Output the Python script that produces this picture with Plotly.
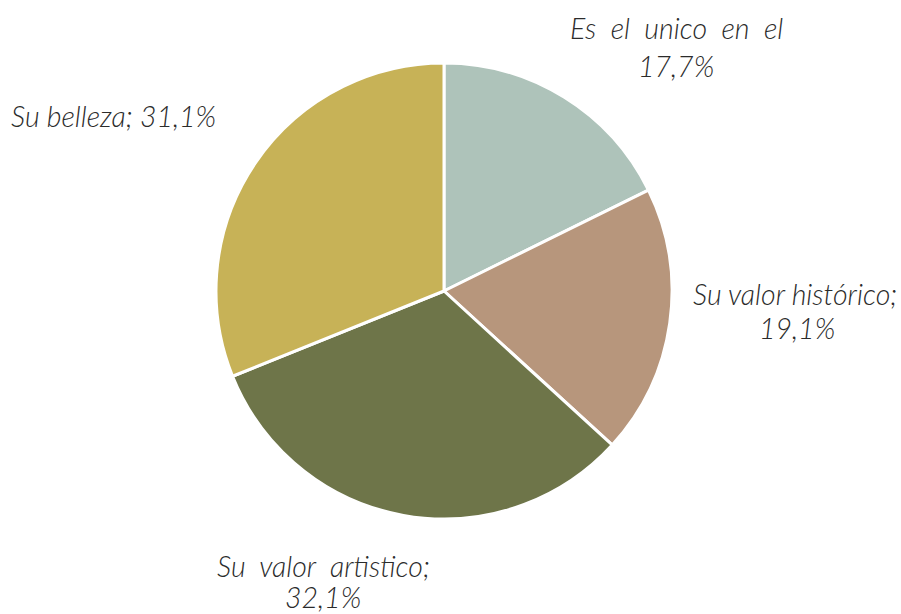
import plotly.graph_objects as go

# Survey shares (percent), clockwise from 12 o'clock
labels = ["Es el unico en el", "Su valor histórico", "Su valor artistico", "Su belleza"]
values = [17.7, 19.1, 32.1, 31.1]
colors = ["#AEC3BA", "#B7967C", "#6E7549", "#C7B257"]


def pct(v):
    return f"{v:.1f}".replace(".", ",") + "%"


fig = go.Figure(
    go.Pie(
        labels=labels,
        values=values,
        sort=False,
        direction="clockwise",
        rotation=0,
        marker=dict(colors=colors, line=dict(color="white", width=3)),
        textinfo="none",
        hoverinfo="label+percent",
        showlegend=False,
        domain=dict(x=[(444 - 228) / 901, (444 + 228) / 901],
                    y=[1 - 519 / 614, 1 - 63 / 614]),
    )
)

font = dict(family="Lato", size=28.5, color="#2b2b2b", weight=300, style="italic")
nb = "\u00a0"

# Outside label text, one annotation per line
lines = [
    (nb.join(["Es", "", "el", "", "unico", "", "en", "", "el"]), 676, 28),
    (pct(values[0]), 676, 66),
    (f"{labels[1]};", 795, 294),
    (pct(values[1]), 797, 328),
    (nb.join(["Su", "", "valor", "", f"{labels[2][9:]};"]), 323, 566),
    (pct(values[2]), 323, 597),
    (f"{labels[3]}; {pct(values[3])}", 114, 116),
]

fig.update_layout(
    width=901,
    height=614,
    margin=dict(l=0, r=0, t=0, b=0),
    paper_bgcolor="white",
    plot_bgcolor="white",
    annotations=[
        dict(text=t, x=x / 901, y=1 - y / 614, xref="paper", yref="paper",
             xanchor="center", yanchor="middle", showarrow=False, font=font)
        for t, x, y in lines
    ],
)

fig.write_html("out.html")
